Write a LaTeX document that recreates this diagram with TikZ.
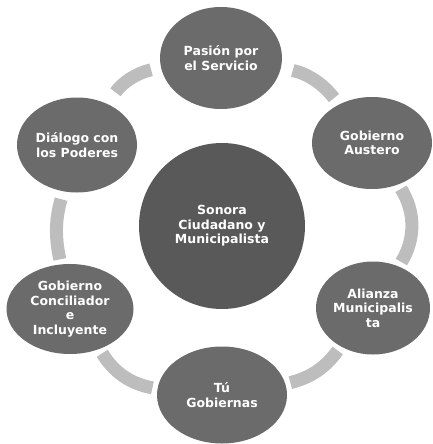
\documentclass[tikz,border=0pt]{standalone}
\usepackage{fontspec}
\setmainfont{DejaVu Sans}
\usetikzlibrary{positioning,shapes.geometric}
\definecolor{ballcol}{gray}{0.42}
\definecolor{corecol}{gray}{0.35}
\definecolor{barcol}{gray}{0.74}

\begin{document}
\begin{tikzpicture}[x=1pt,y=-1pt,
    every node/.style={ellipse,inner sep=0pt,fill=ballcol,text=white,align=center,
      font=\bfseries\fontsize{12.5}{14.5}\selectfont,minimum width=122pt,minimum height=95pt},
    link/.style={draw=barcol,line width=13pt,shorten <=5pt,shorten >=5pt}]
    \useasboundingbox (0,0) rectangle (432,444);
    \node[fill=corecol,circle,minimum size=166pt] (Sonora) at (222,226) {Sonora\\Ciudadano y\\Municipalista};
    \node[minimum height=102pt] (Pasion) at (221,58) {Pasión por\\el Servicio};
    \node[minimum width=120pt,minimum height=92pt] (Austero) at (372,143) {Gobierno\\Austero};
    \node[minimum width=114pt,minimum height=93pt] (Alianza) at (373,308) {Alianza\\Municipalis\\ta};
    \node[minimum width=130pt,minimum height=97pt] (Tu) at (222,395) {Tú\\Gobiernas};
    \node[minimum width=127pt,minimum height=90pt] (Conciliador) at (70,309) {Gobierno\\Conciliador\\e\\Incluyente};
    \node[minimum width=120pt] (Dialogo) at (77,145) {Diálogo con\\los Poderes};
    \draw[link,shorten <=12pt,shorten >=8pt] (Pasion) to[bend left=20] (Austero);
    \draw[link] (Austero) to[bend left=32] (Alianza);
    \draw[link] (Alianza) to[bend left=20] (Tu);
    \draw[link] (Tu) to[bend left=24] (Conciliador);
    \draw[link,shorten >=8pt] (Conciliador) to[bend left=14] (Dialogo);
    \draw[link,shorten <=14pt,shorten >=10pt] (Dialogo) to[bend left=22] (Pasion);
  \end{tikzpicture}
\end{document}
